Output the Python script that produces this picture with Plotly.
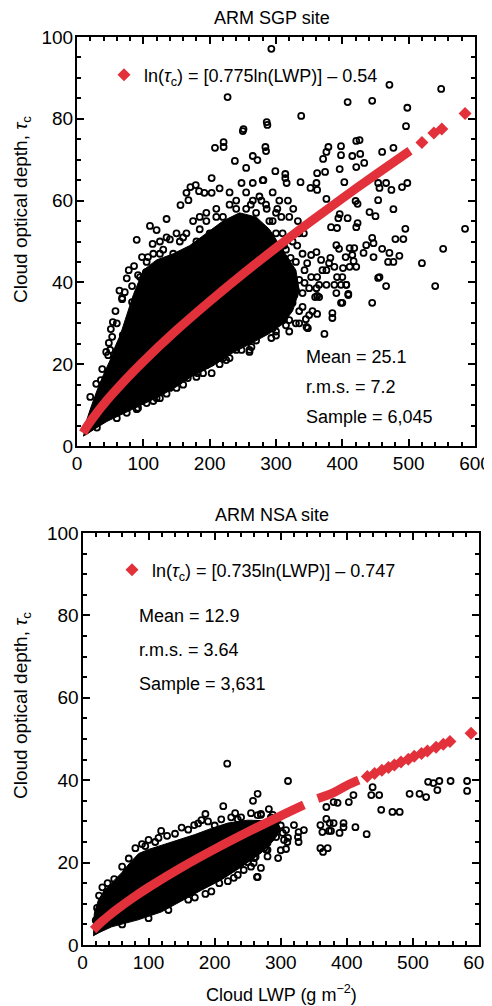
import plotly.graph_objects as go

# page is drawn with an 8 px body margin, so the figure is offset by 8 px
OFF = 8
W, H = 484, 998
FONT = "Liberation Sans, Arial, Helvetica, sans-serif"
RED = "#E2313B"

def fx_(px):
    return (px - OFF) / W

def fy_(py):
    return 1 - (py - OFF) / H

# ---------------- ARM SGP site (top panel) ----------------
sgp_core_lwp = [9, 15, 25, 45, 75, 105, 125, 150, 175, 205, 235, 265, 290, 310,
                325, 335, 330,
                310, 290, 270, 245, 220, 195, 170, 145, 120, 100, 92, 85, 75, 65, 58, 50, 40, 30, 20, 12]
sgp_core_tau = [2.4, 2.9, 4.0, 6.0, 8.3, 10.6, 12.2, 14.5, 17.2, 19.6, 22.8, 25.3, 27.5, 29.8,
                33, 38, 43,
                48, 53, 56, 57, 55, 52, 49, 47, 45.5, 43, 40, 37, 32, 27, 24.5, 21, 17.5, 13.5, 9, 5]

sgp_lwp = [293, 471, 549, 408, 445, 498, 338, 286, 287, 496, 251, 227,
           250, 208, 221, 221, 238, 265, 272, 284, 285, 255, 299, 203, 248, 265, 280, 171, 179, 184,
           165, 192, 203, 156, 168, 135, 110, 90, 114, 98, 107, 68, 72, 95, 83, 120,
           125, 140, 150, 160, 175, 185, 195, 210, 220, 230, 240, 255, 265, 275, 285, 295, 300, 180,
           200, 145, 130, 215, 230, 245, 260, 290, 305, 310, 320, 315, 325, 330, 335, 340, 310, 320,
           330, 300, 310, 325, 335,
           379, 376, 371, 398, 398, 421, 426, 415, 427, 433, 421, 396, 460, 477, 374, 362, 403, 337,
           314, 314, 316, 281, 352, 361, 362, 376, 454, 466, 474, 456, 490, 498, 454, 477, 441, 450,
           420, 423, 396, 394, 408, 383, 392, 423, 421, 495, 585, 552, 520, 540, 454, 466, 480, 492,
           445, 436, 447, 447, 460, 471, 477, 486, 469, 432, 411, 418, 415, 405, 417, 391, 395, 421,
           401, 411, 400, 398, 406, 409, 388, 392, 388, 382, 380, 376, 368, 370, 362, 365, 365, 361,
           353, 347, 343, 335, 343, 353, 350, 340, 361, 359, 398, 445,
           293, 260, 373, 346, 348, 385, 385, 362, 400, 456, 391, 409, 376, 406, 362, 320, 310, 295,
           68, 83, 54, 51, 53, 48, 50, 47, 38, 29, 36, 20, 69, 203, 167, 180, 182, 150, 140, 120, 125,
           105, 92, 75, 225, 230, 245, 255, 263, 260, 248, 215, 210, 220, 173, 195, 92, 104, 75,
           255, 262, 270, 278, 286, 295, 302, 308, 318, 326, 333, 258, 268, 280, 290, 300, 312, 322,
           332, 342, 262, 275, 285, 298, 305, 318, 328, 340, 350, 305, 315, 335, 282, 292, 300, 312,
           240, 232, 210, 195, 185, 165, 155, 135, 115, 105, 125, 320, 330, 345, 355, 300,
           60, 44, 58, 78, 64, 86,
           30, 60, 90, 115, 135, 160, 190, 215, 240, 270, 300, 315]
sgp_tau = [97.1, 88.3, 87.3, 84.1, 84.4, 82.7, 80.7, 79.2, 78.5, 78.2, 77.5, 85.3,
           77, 72.9, 74.3, 73.1, 69.7, 70.9, 69.9, 73.1, 72.1, 68, 67.2, 65.5, 64.3, 64.3, 65, 63.3, 63.8, 62.3,
           61.9, 61.9, 61.9, 58.9, 60.1, 55.5, 53.8, 50.4, 49.4, 46.2, 46.2, 35.9, 37.6, 41.3, 39.1, 52.8,
           50, 50.5, 52, 51, 55, 56, 57, 58, 56, 59, 60, 58, 60, 61, 59, 62, 57, 50,
           52, 47, 48, 63, 62, 55, 54, 55, 60, 52, 56, 48, 50, 45, 52, 47, 44, 42,
           38, 47, 39, 35, 33,
           73.1, 71.9, 70.2, 73.3, 71.1, 74.6, 74.8, 70.9, 71.4, 69.2, 68.2, 67.7, 71.9, 72.9, 67, 66.7, 64.5, 64.5,
           66.5, 65.5, 64.3, 65, 63.1, 64.3, 62.6, 60.4, 64.3, 64.3, 62.6, 63.1, 63.3, 64.3, 60.1, 57.9, 57.2, 56.2,
           59.9, 59.2, 56.7, 55.7, 55.7, 53.5, 53.3, 54.5, 53.5, 53.1, 53.1, 48.2, 44.7, 39.1, 41.1, 39.1, 50.6, 50.6,
           50.9, 49.1, 49.6, 46.2, 48.2, 47.2, 45, 46.5, 45, 47.2, 48.4, 48.4, 46.7, 46.2, 45.2, 49.1, 48.2, 43.8,
           43.5, 43.8, 41.3, 39.4, 39.4, 36.9, 43.8, 41.3, 39.4, 46, 44.7, 43, 45.5, 43, 41.3, 39.4, 36.4, 47.4,
           46.7, 44.7, 43, 40.6, 39.9, 41.3, 38.6, 37.4, 38.6, 36.4, 35, 35,
           26.4, 23.5, 27.4, 29.1, 28.8, 32.5, 31.3, 32.3, 35, 41.3, 37.4, 37.2, 39.4, 39.4, 36.7, 30.8, 30.8, 28.8,
           36.2, 35.2, 30.3, 28.6, 26.7, 25.2, 23.5, 22.2, 18.8, 15.2, 16.1, 12, 27.1, 17.8, 16.6, 16.9, 17.8, 14.2, 14.2, 11.7, 11.7,
           10.5, 9.3, 8.1, 21, 21.5, 25.2, 25.9, 24.2, 23, 23.5, 23, 22.2, 21.5, 18.6, 19.8, 41.8, 42.5, 41,
           62, 59, 57, 60, 58, 55, 58, 56, 60, 58, 55, 52, 50, 53, 50, 52, 49, 46,
           49, 52, 45, 46, 44, 42, 45, 41, 37, 34, 32, 36, 33, 30, 40, 37, 33, 31,
           58, 53, 56, 55, 53, 52, 50, 51, 47, 45, 47, 28, 30, 31, 33, 27,
           30, 23, 33, 43, 38, 44,
           4.5, 6.8, 9, 11, 12.8, 15, 17.8, 20, 23.5, 25.8, 28, 29.5]

sgp_fit_lwp = [9, 15, 20, 30, 40, 50, 75, 100, 150, 200, 250, 300, 350, 400, 450, 502]
sgp_fit_tau = [3.2, 4.75, 5.94, 8.13, 10.16, 12.08, 16.54, 20.67, 28.31, 35.37, 42.06, 48.44, 54.59, 60.55, 66.33, 72.2]
sgp_fit_pts_lwp = [520, 538, 550, 585]
sgp_fit_pts_tau = [74.2, 76.5, 77.5, 81.3]

# ---------------- ARM NSA site (bottom panel) ----------------
nsa_core_lwp = [16, 25, 44, 84, 119, 149, 180, 210, 240, 270, 290,
                300, 295,
                270, 250, 220, 195, 170, 145, 120, 100, 85, 72, 59, 45, 33, 24, 18, 16]
nsa_core_tau = [2.2, 3.0, 4.4, 6.1, 8.0, 10.7, 13.3, 15.8, 18.9, 22.3, 25.5,
                28, 30,
                30.2, 30.3, 29.6, 28.3, 26.8, 25.5, 24.2, 23.2, 22.2, 20, 17.5, 15.2, 13.3, 10.9, 7.8, 4]

nsa_lwp = [265, 258, 213, 231, 186, 180, 169, 119, 270, 282, 48, 296, 270, 265, 229, 207, 186, 260, 250,
           244, 293, 280, 278, 265, 311, 288, 270, 320, 335, 327, 326, 327, 308, 303, 311, 305, 308, 285,
           290, 278, 275, 270, 267, 262, 259, 264, 280, 275, 360, 363, 360, 364, 371, 369, 369, 374, 373,
           376, 380, 380, 386, 389, 395, 395, 403, 410, 413, 430, 439, 437, 449, 452, 469, 480, 495, 510,
           520, 537, 523, 531, 540, 557, 582, 582,
           95, 110, 140, 150, 200, 210, 240, 255, 219,
           60, 70, 80, 90, 100, 115, 128, 160, 175, 190, 225, 235, 265, 285, 295, 300,
           60, 100, 130, 160, 170, 195, 220, 235, 255, 280, 300, 310,
           20, 22, 25, 30, 38]
nsa_tau = [36.7, 35, 33.7, 32, 31.8, 30.3, 29.1, 27.7, 31.8, 33, 16, 21.1, 18.7, 16.5, 16.3, 15, 12.4, 21.1, 20.1,
           18.2, 26.2, 24.8, 23.1, 23.1, 39.8, 31.6, 31.6, 29.1, 27.9, 27.4, 26.2, 25, 27.9, 27.2, 26, 25.5, 23.3, 28.6,
           27.4, 26, 24.8, 24.3, 23.1, 21.4, 19.9, 16.5, 23.1, 23.5, 29.1, 27.4, 23.5, 22.6, 23.5, 33.5, 30.6, 29.6, 27.7,
           27.7, 29.6, 34.7, 34.5, 27.2, 29.6, 28.6, 34.7, 36.4, 28.6, 26.9, 38.3, 36.4, 36.4, 32.8, 32.3, 32.3, 36.7, 36.7,
           35.9, 37.6, 39.6, 39.3, 39.8, 39.8, 39.8, 37.4,
           24, 25, 27, 28.5, 29, 30.5, 31, 32, 44,
           19, 21, 23.5, 24.5, 25.5, 26, 26.5, 28, 29.5, 30, 31, 30.5, 31.5, 31, 30.5, 29,
           5, 6.5, 8.5, 11, 11.5, 13, 15.5, 17, 19, 21.5, 23, 25,
           6, 9, 12, 14, 15]

nsa_fit_lwp = [16, 20, 30, 40, 50, 75, 100, 150, 200, 250, 300, 335, None, 356, 380, 400, 418]
nsa_fit_tau = [3.64, 4.28, 5.77, 7.13, 8.40, 11.32, 13.98, 18.84, 23.27, 27.42, 31.35, 34.0, None, 35.56, 37.0, 38.73, 40.0]
nsa_fit_pts_lwp = [431, 442, 453, 463, 472, 482, 493, 502, 513, 522, 535, 546, 556, 588]
nsa_fit_pts_tau = [40.9, 41.6, 42.4, 43.1, 43.7, 44.4, 45.1, 45.8, 46.5, 47.1, 48.0, 48.7, 49.4, 51.4]

titles = ["ARM SGP site", "ARM NSA site"]
equations = ["ln(<i>τ</i><sub>c</sub>) = [0.775ln(LWP)] – 0.54",
             "ln(<i>τ</i><sub>c</sub>) = [0.735ln(LWP)] – 0.747"]
stats = [["Mean = 25.1", "r.m.s. = 7.2", "Sample = 6,045"],
         ["Mean = 12.9", "r.m.s. = 3.64", "Sample = 3,631"]]

fig = go.Figure()

def add_panel(xa, ya, core_x, core_y, px, py, fx, fy, dx, dy, eq, leg):
    fig.add_trace(go.Scatter(x=core_x, y=core_y, mode="lines", fill="toself",
                             fillcolor="black", line=dict(color="black", width=1),
                             xaxis=xa, yaxis=ya, showlegend=False, hoverinfo="skip"))
    fig.add_trace(go.Scatter(x=px, y=py, mode="markers",
                             marker=dict(symbol="circle-open", size=6, color="black",
                                         line=dict(width=1.8, color="black")),
                             xaxis=xa, yaxis=ya, showlegend=False))
    fig.add_trace(go.Scatter(x=fx, y=fy, mode="lines", line=dict(color=RED, width=9, shape="spline"),
                             connectgaps=False, xaxis=xa, yaxis=ya, showlegend=False))
    fig.add_trace(go.Scatter(x=dx, y=dy, mode="markers", name=eq,
                             marker=dict(symbol="diamond", size=10, color=RED),
                             xaxis=xa, yaxis=ya, showlegend=True, legend=leg))

add_panel("x", "y", sgp_core_lwp, sgp_core_tau, sgp_lwp, sgp_tau, sgp_fit_lwp, sgp_fit_tau,
          sgp_fit_pts_lwp, sgp_fit_pts_tau, equations[0], "legend")
add_panel("x2", "y2", nsa_core_lwp, nsa_core_tau, nsa_lwp, nsa_tau, nsa_fit_lwp, nsa_fit_tau,
          nsa_fit_pts_lwp, nsa_fit_pts_tau, equations[1], "legend2")

tickfont = dict(family=FONT, size=19, color="black")
def xaxis(domain, anchor):
    return dict(domain=domain, anchor=anchor, range=[0, 600], dtick=100, tick0=0,
                showline=True, linewidth=2, linecolor="black", mirror="allticks",
                ticks="inside", ticklen=7, tickwidth=2, tickcolor="black",
                minor=dict(dtick=20, ticks="inside", ticklen=4, tickwidth=1.5, tickcolor="black"),
                showgrid=False, zeroline=False, tickfont=tickfont, ticklabelstandoff=-1,
                ticklabeloverflow="allow", automargin=False)
def yaxis(domain, anchor):
    return dict(domain=domain, anchor=anchor, range=[0, 100], dtick=20, tick0=0,
                showline=True, linewidth=2, linecolor="black", mirror="allticks",
                ticks="inside", ticklen=7, tickwidth=2, tickcolor="black",
                minor=dict(dtick=5, ticks="inside", ticklen=4, tickwidth=1.5, tickcolor="black"),
                showgrid=False, zeroline=False, tickfont=tickfont, ticklabelstandoff=-2,
                ticklabeloverflow="allow", automargin=False)

fig.update_layout(
    width=W, height=H, margin=dict(l=0, r=0, t=0, b=0, autoexpand=False),
    paper_bgcolor="white", plot_bgcolor="white",
    xaxis=xaxis([fx_(77), fx_(475)], "y"),
    yaxis=yaxis([fy_(446), fy_(37)], "x"),
    xaxis2=xaxis([fx_(82.5), fx_(479)], "y2"),
    yaxis2=yaxis([fy_(945), fy_(533)], "x2"),
    legend=dict(x=fx_(104), y=fy_(75), xanchor="left", yanchor="middle", bgcolor="rgba(0,0,0,0)",
                font=dict(family=FONT, size=18, color="black"), itemwidth=30),
    legend2=dict(x=fx_(112), y=fy_(570), xanchor="left", yanchor="middle", bgcolor="rgba(0,0,0,0)",
                 font=dict(family=FONT, size=18, color="black"), itemwidth=30),
)

ann = []
def text(s, x, y, size=18, xanchor="center", **kw):
    ann.append(dict(text=s, x=fx_(x), y=fy_(y), xref="paper", yref="paper", showarrow=False,
                    xanchor=xanchor, yanchor="middle",
                    font=dict(family=FONT, size=size, color="black"), **kw))

text(titles[0], 272, 18)
text(titles[1], 272, 515)
for s, yy in zip(stats[0], [357, 387, 417]):
    text(s, 304, yy, xanchor="left")
for s, yy in zip(stats[1], [616, 650, 684]):
    text(s, 137, yy, xanchor="left")
text("Cloud optical depth, <i>τ</i><sub>c</sub>", 22, 210, size=19, textangle=-90)
text("Cloud optical depth, <i>τ</i><sub>c</sub>", 22, 706, size=19, textangle=-90)
text("Cloud LWP (g m<sup>−2</sup>)", 281, 993)
fig.update_layout(annotations=ann)

fig.write_html("out.html")
